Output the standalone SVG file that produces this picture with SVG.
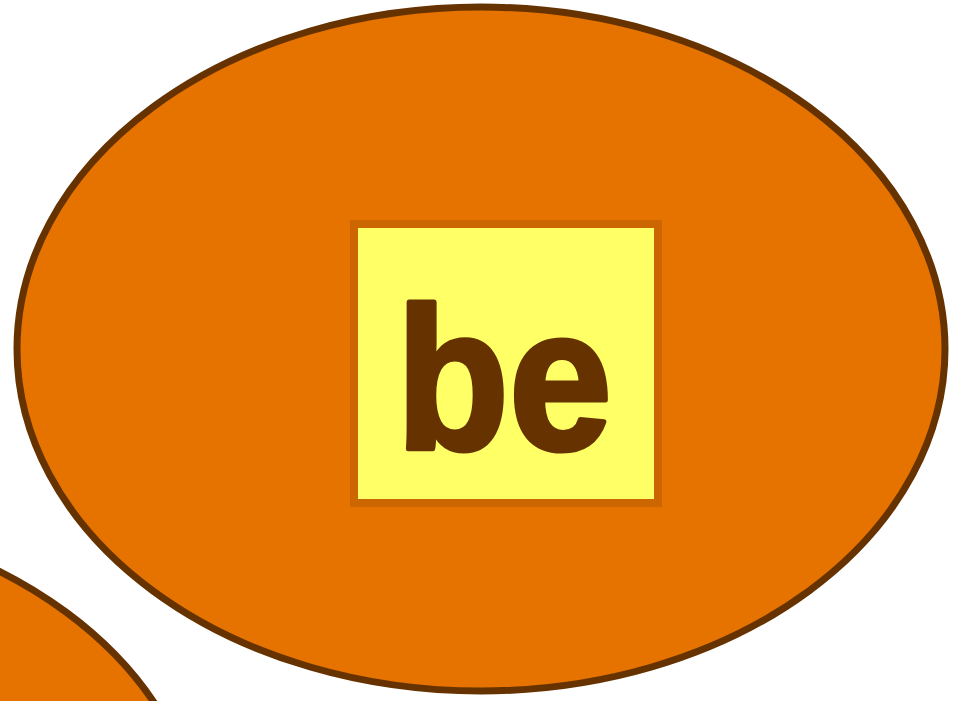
<svg xmlns="http://www.w3.org/2000/svg" width="955" height="701" viewBox="0 0 955 701">
<style>
.blob{fill:#E67300;stroke:#663300;stroke-width:7}
.box{fill:#FFFF66;stroke:#CC6600;stroke-width:8}
.lbl{font-family:"Comic Sans MS","Liberation Sans",sans-serif;font-weight:bold;fill:#663300;stroke:#663300;stroke-width:5;stroke-linejoin:round}
</style>
<rect width="955" height="701" fill="#FFFFFF"/>
<g id="node-other">
<ellipse class="blob" cx="-262" cy="854" rx="464" ry="342"/>
</g>
<g id="node-be">
<ellipse class="blob" cx="481" cy="349" rx="464" ry="342"/>
<rect class="box" x="354" y="224" width="304" height="279"/>
<text class="lbl" x="504" y="449" font-size="202" text-anchor="middle" textLength="216" lengthAdjust="spacingAndGlyphs">be</text>
</g>
<g id="connectors"></g>
</svg>
